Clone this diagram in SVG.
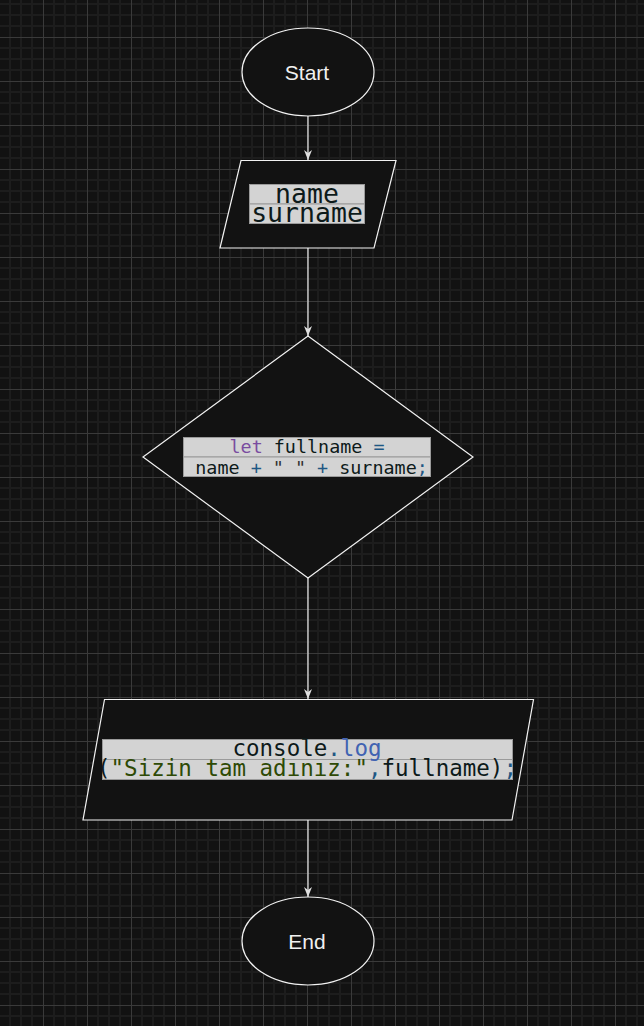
<svg xmlns="http://www.w3.org/2000/svg" width="644" height="1026" viewBox="0 0 644 1026">
<defs>
<pattern id="grid" patternUnits="userSpaceOnUse" x="43" y="37" width="44" height="44">
<rect width="44" height="44" fill="#121212"/>
<rect x="10" y="0" width="2" height="44" fill="#1d1d1d"/>
<rect x="21" y="0" width="2" height="44" fill="#1d1d1d"/>
<rect x="32" y="0" width="2" height="44" fill="#1d1d1d"/>
<rect x="0" y="10" width="44" height="2" fill="#1d1d1d"/>
<rect x="0" y="21" width="44" height="2" fill="#1d1d1d"/>
<rect x="0" y="32" width="44" height="2" fill="#1d1d1d"/>
<rect x="0" y="0" width="1" height="44" fill="#3a3a3a"/>
<rect x="0" y="0" width="44" height="1" fill="#3a3a3a"/>
</pattern>
<marker id="arr" markerUnits="userSpaceOnUse" markerWidth="10" markerHeight="10" refX="10" refY="5" orient="auto">
<path d="M0,1 L10,5 L0,9 L3,5 z" fill="#e0e0e0"/>
</marker>
</defs>
<style>
.shape{fill:#121212;stroke:#f2f2f2;stroke-width:1.2}
.conn{stroke:#dcdcdc;stroke-width:1.3;fill:none}
.term{font-family:"Liberation Sans",Arial,sans-serif;font-size:21px;fill:#f0f0f0;text-anchor:middle}
.box{fill:#d3d3d3;stroke:#9a9a9a;stroke-width:1}
.code{font-family:"DejaVu Sans Mono",monospace;fill:#0d1a1a;text-anchor:middle}
.kw{fill:#7a4ca0}
.op{fill:#1f5784}
.fn{fill:#4163b2}
.str{fill:#2e4a05}
.q{fill:#333333}
</style>
<rect width="644" height="1026" fill="url(#grid)"/>
<g id="connectors">
<line class="conn" x1="308" y1="116" x2="308" y2="160" marker-end="url(#arr)"/>
<line class="conn" x1="308" y1="248" x2="308" y2="336" marker-end="url(#arr)"/>
<line class="conn" x1="308" y1="578" x2="308" y2="699" marker-end="url(#arr)"/>
<line class="conn" x1="308" y1="820" x2="308" y2="897" marker-end="url(#arr)"/>
</g>
<g id="start">
<ellipse class="shape" cx="308" cy="72" rx="66" ry="44"/>
<text class="term" x="307" y="80">Start</text>
</g>
<g id="input">
<polygon class="shape" points="241,160.5 396,160.5 374,248 220,248"/>
<rect class="box" x="249.5" y="184.5" width="115" height="19.5"/>
<rect class="box" x="249.5" y="204" width="115" height="19.5"/>
<text class="code" style="font-size:26.5px" x="307" y="203">name</text>
<text class="code" style="font-size:26.5px" x="307" y="222">surname</text>
</g>
<g id="process">
<polygon class="shape" points="308,336 473,457 308,578 143,457"/>
<rect class="box" x="183.5" y="437.5" width="247" height="19.5"/>
<rect class="box" x="183.5" y="457" width="247" height="19.5"/>
<text class="code" style="font-size:18.4px" x="307" y="453"><tspan class="kw">let</tspan> fullname <tspan class="op">=</tspan></text>
<text class="code" style="font-size:18.4px" x="306" y="473.5" xml:space="preserve"> name <tspan class="op">+</tspan> <tspan class="q">" "</tspan> <tspan class="op">+</tspan> surname<tspan class="op">;</tspan></text>
</g>
<g id="output">
<polygon class="shape" points="104.5,699.5 533.5,699.5 512,820 83,820"/>
<rect class="box" x="102.5" y="739.5" width="410" height="20"/>
<rect class="box" x="102.5" y="759.5" width="410" height="20"/>
<text class="code" style="font-size:22.5px" x="307" y="756">console<tspan class="op">.</tspan><tspan class="fn">log</tspan></text>
<text class="code" style="font-size:22.5px" x="307" y="776">(<tspan class="str">"Sizin tam adınız:"</tspan><tspan class="op">,</tspan>fullname)<tspan class="op">;</tspan></text>
</g>
<g id="end">
<ellipse class="shape" cx="308" cy="941" rx="66" ry="44"/>
<text class="term" x="307" y="949">End</text>
</g>
</svg>
